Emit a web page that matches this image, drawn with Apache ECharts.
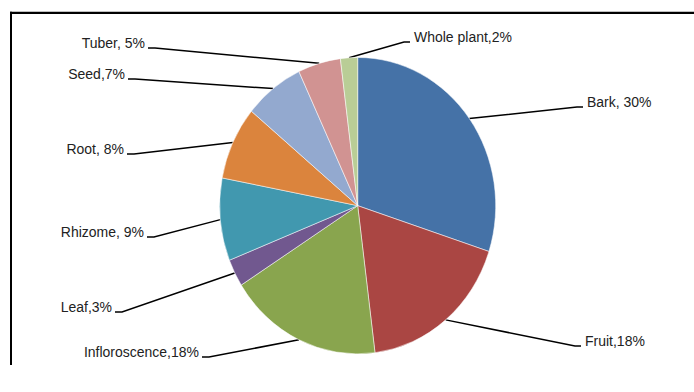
<!DOCTYPE html>
<html>
<head>
<meta charset="utf-8">
<script src="https://cdn.jsdelivr.net/npm/echarts@6/dist/echarts.min.js"></script>
<style>
  html, body { margin: 0; padding: 0; background: #fff; overflow: hidden; }
  /* the source picture is a slightly stretched excel chart, so stretch ours too */
  #main { width: 694px; height: 365px; transform: scaleY(1.074); transform-origin: 0 0; }
</style>
</head>
<body>
<div id="main"></div>
<script>
var parts = ["Bark", "Fruit", "Infloroscence", "Leaf", "Rhizome", "Root", "Seed", "Tuber", "Whole plant"];
var shares = [30, 18, 18, 3, 9, 8, 7, 5, 2];
var labelTexts = ["Bark, 30%", "Fruit,18%", "Infloroscence,18%", "Leaf,3%", "Rhizome, 9%",
                  "Root, 8%", "Seed,7%", "Tuber, 5%", "Whole plant,2%"];
var colors = ["#4572A7", "#AA4643", "#89A54E", "#71588F", "#4198AF", "#DB843D", "#93A9CF", "#D19392", "#B9CD96"];

// where each leader line ends (x, y), label text sits next to it
var labelAnchors = [
  [583, 99.6], [581, 322.2], [202, 332.4], [115, 290.5], [147, 220.7],
  [127, 143.4], [128, 73.6], [148, 44.7], [410, 39.1]
];

var pieCenter = [357.7, 191.5];

var myChart = echarts.init(document.getElementById("main"), null, { renderer: "svg" });

var seriesData = parts.map(function (name, i) {
  return { name: name, value: shares[i], itemStyle: { color: colors[i] } };
});

myChart.setOption({
  animation: false,
  graphic: [
    { type: "line", shape: { x1: 10, y1: 12, x2: 694, y2: 12 }, style: { stroke: "#000", lineWidth: 2 } },
    { type: "line", shape: { x1: 11, y1: 11, x2: 11, y2: 365 }, style: { stroke: "#000", lineWidth: 2 } }
  ],
  series: [
    {
      type: "pie",
      center: pieCenter,
      radius: 138,
      startAngle: 90,
      clockwise: true,
      avoidLabelOverlap: false,
      emphasis: { scale: false },
      itemStyle: { borderColor: "#fff", borderWidth: 0.5 },
      label: {
        show: true,
        formatter: function (p) { return labelTexts[p.dataIndex]; },
        fontFamily: "Liberation Sans, Arial, sans-serif",
        fontSize: 14,
        color: "#222"
      },
      labelLine: {
        show: true,
        length: 20,
        length2: 10,
        lineStyle: { color: "#000", width: 1.4 }
      },
      labelLayout: function (params) {
        var a = labelAnchors[params.dataIndex];
        var right = a[0] > pieCenter[0];
        var p0 = params.labelLinePoints ? params.labelLinePoints[0] : [pieCenter[0], pieCenter[1]];
        var elbowX = right ? a[0] - 6 : a[0] + 7;
        return {
          x: right ? a[0] + 4 : a[0] - 3,
          y: a[1] - 5,
          align: right ? "left" : "right",
          verticalAlign: "middle",
          labelLinePoints: [p0, [elbowX, a[1]], [a[0], a[1]]]
        };
      },
      data: seriesData
    }
  ]
});
</script>
</body>
</html>
